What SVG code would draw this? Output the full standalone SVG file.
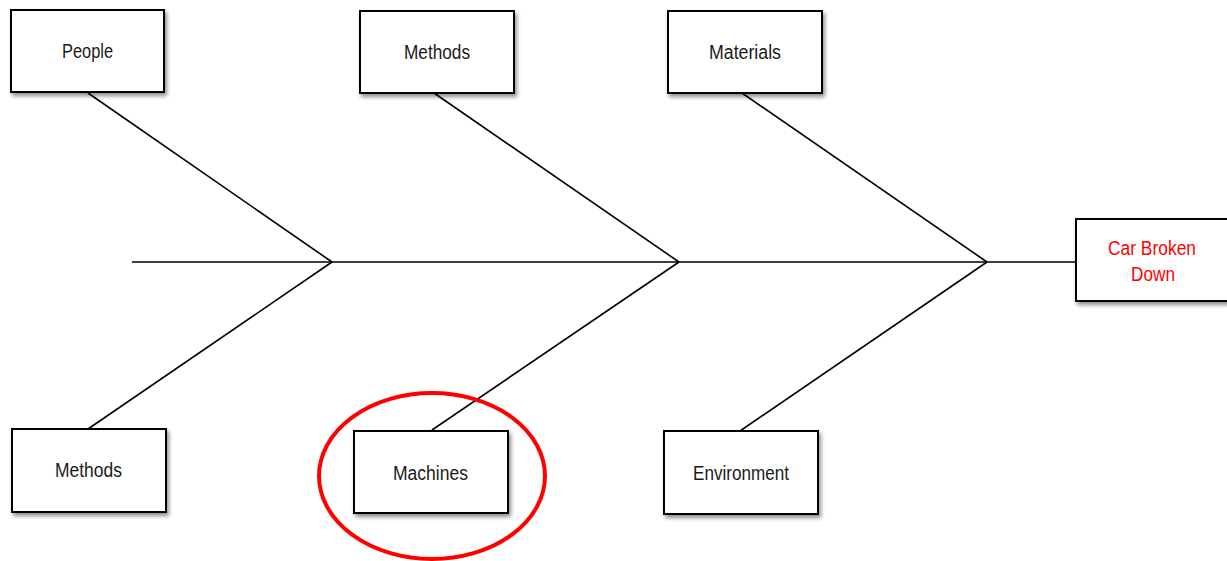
<svg xmlns="http://www.w3.org/2000/svg" width="1227" height="561" viewBox="0 0 1227 561">
<defs>
<filter id="sh" x="-10%" y="-10%" width="130%" height="140%">
<feGaussianBlur in="SourceAlpha" stdDeviation="2"/>
<feOffset dx="2" dy="3" result="b"/>
<feComponentTransfer><feFuncA type="linear" slope="0.45"/></feComponentTransfer>
<feMerge><feMergeNode/><feMergeNode in="SourceGraphic"/></feMerge>
</filter>
</defs>
<style>
.box{fill:#fff;stroke:#000;stroke-width:2;filter:url(#sh)}
.lbl{font-family:"Liberation Sans Narrow","Arial Narrow","Liberation Sans",sans-serif;font-size:20px;fill:#1a1a1a;text-anchor:middle}
.red{fill:#ff0000}
.ln{stroke:#000;stroke-width:1.6;fill:none}
</style>
<rect width="1227" height="561" fill="#fff"/>
<g id="connectors">
<line class="ln" x1="132" y1="262" x2="1076" y2="262" stroke-width="2"/>
<line class="ln" x1="88" y1="93" x2="332" y2="262"/>
<line class="ln" x1="434" y1="93" x2="679" y2="262"/>
<line class="ln" x1="742" y1="93" x2="987" y2="262"/>
<line class="ln" x1="88" y1="429" x2="332" y2="262"/>
<line class="ln" x1="432" y1="430" x2="679" y2="262"/>
<line class="ln" x1="740" y1="431" x2="987" y2="262"/>
</g>
<g id="people"><rect class="box" x="11" y="10" width="153" height="82"/><text class="lbl" x="87.5" y="58" textLength="51" lengthAdjust="spacingAndGlyphs">People</text></g>
<g id="methods-top"><rect class="box" x="360" y="11" width="154" height="82"/><text class="lbl" x="437" y="59" textLength="66" lengthAdjust="spacingAndGlyphs">Methods</text></g>
<g id="materials"><rect class="box" x="668" y="11" width="154" height="82"/><text class="lbl" x="745" y="59" textLength="72" lengthAdjust="spacingAndGlyphs">Materials</text></g>
<g id="methods-bottom"><rect class="box" x="12" y="429" width="154" height="83"/><text class="lbl" x="88.5" y="477" textLength="67" lengthAdjust="spacingAndGlyphs">Methods</text></g>
<g id="machines"><rect class="box" x="354" y="431" width="154" height="82"/><text class="lbl" x="430.5" y="480" textLength="75" lengthAdjust="spacingAndGlyphs">Machines</text></g>
<g id="environment"><rect class="box" x="664" y="431" width="154" height="83"/><text class="lbl" x="741" y="480" textLength="96" lengthAdjust="spacingAndGlyphs">Environment</text></g>
<g id="car-broken-down"><rect class="box" x="1076" y="219" width="152" height="82"/><text class="lbl red" x="1152" y="255" textLength="88" lengthAdjust="spacingAndGlyphs">Car Broken</text><text class="lbl red" x="1153" y="281" textLength="44" lengthAdjust="spacingAndGlyphs">Down</text></g>
<g id="highlight"><ellipse cx="432" cy="476" rx="113" ry="83" fill="none" stroke="#ff0000" stroke-width="4"/></g>
</svg>
